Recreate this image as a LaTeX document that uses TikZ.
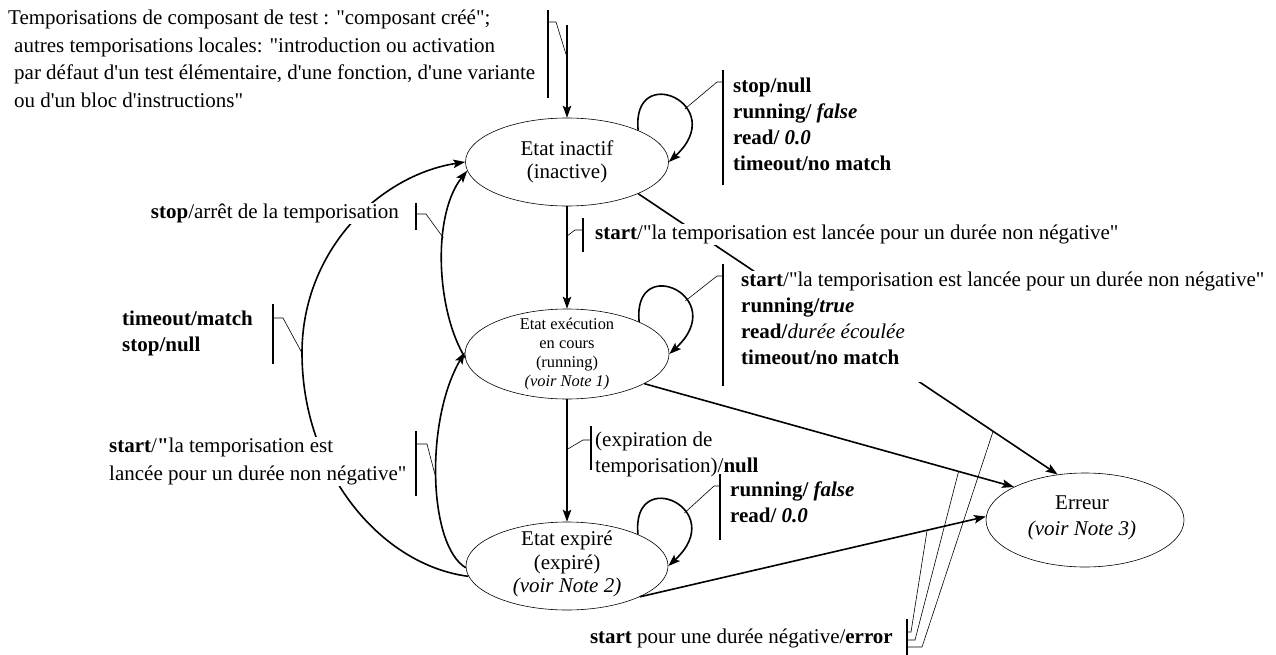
\documentclass[tikz,border=0pt]{standalone}
\usepackage{fontspec}
\setmainfont{Liberation Serif}[Ligatures=TeXOff]
\usetikzlibrary{arrows.meta,shapes.geometric}

\begin{document}
\begin{tikzpicture}[x=1pt,y=-1pt,
  state/.style={draw, ellipse, line width=0.6pt, inner sep=0pt},
  stxt/.style={font=\fontsize{21}{23.5}\selectfont, align=center, inner sep=0pt},
  conn/.style={line width=1.6pt, -{Stealth[length=12pt,width=8.5pt,inset=2.5pt]}},
  tag/.style={font=\fontsize{21}{26}\selectfont, align=left, inner sep=1pt, fill=white},
  bar/.style={line width=1.1pt},
  lead/.style={line width=0.6pt},
]
\useasboundingbox (0,0) rectangle (1276,655);

% states
\node[state, minimum width=203pt, minimum height=88pt] (inactif) at (567,162) {};
\node[stxt] (tinactif) at (inactif.center) {Etat inactif\\(inactive)};
\node[state, minimum width=204pt, minimum height=90pt] (running) at (567,354) {};
\node[stxt, font=\fontsize{16.4}{18.7}\selectfont] (trunning) at (running.center)
  {Etat exécution\\en cours\\(running)\\\textit{(voir Note 1)}};
\node[state, minimum width=202pt, minimum height=88pt] (expired) at (567,566) {};
\node[stxt] (texpired) at ([yshift=2pt]expired.center) {Etat expiré\\(expiré)\\\textit{(voir Note 2)}};
\node[state, minimum width=198pt, minimum height=94pt] (err) at (1085,520) {};
\node[stxt, font=\fontsize{21}{26}\selectfont] (terr) at ([xshift=-3pt,yshift=2pt]err.center) {Erreur\\\textit{(voir Note 3)}};

% initial transition
\coordinate (init) at (567,25);
\draw[conn] (init) -- (inactif.north) coordinate[pos=0.35] (qa);

% main vertical transitions
\draw[conn] (inactif.south) -- (running.north) coordinate[pos=0.29] (qb);
\draw[conn] (running.south) -- (expired.north) coordinate[pos=0.41] (qc);

% self loops
\draw[conn] (inactif.24) .. controls +(-7,-70) and +(62,-57) .. (inactif.0) coordinate[pos=0.63] (qd);
\draw[conn] (running.24) .. controls +(-7,-70) and +(62,-57) .. (running.0) coordinate[pos=0.63] (qk);
\draw[conn] (expired.24) .. controls +(-7,-70) and +(62,-57) .. (expired.0) coordinate[pos=0.63] (ql);

% left-hand transitions
\draw[conn] (running.182) .. controls (436,310) and (432,215) .. (inactif.185) coordinate[pos=0.62] (qe);
\draw[conn] (expired.181) .. controls (428,545) and (425,420) .. (running.179) coordinate[pos=0.49] (qf);
\draw[conn] (expired.186) .. controls (380,565) and (302,470) .. (302,353) coordinate (qg)
  .. controls (302,250) and (380,175) .. (inactif.180);

% transitions to the error state
\draw[conn] (inactif.-24) -- (err.121) coordinate[pos=0.846] (qh);
\draw[conn] (running.-21) -- (err.155) coordinate[pos=0.85] (qi);
\draw[conn] (expired.-23) -- (err.178) coordinate[pos=0.83] (qj);

% ---- labels ----
\node[tag, anchor=north west, font=\fontsize{21}{27.5}\selectfont] (lnote) at (7,9)
  {Temporisations de composant de test : "composant créé";\\
   \hspace*{6pt}autres temporisations locales: "introduction ou activation\\
   \hspace*{6pt}par défaut d'un test élémentaire, d'une fonction, d'une variante\\
   \hspace*{6pt}ou d'un bloc d'instructions"};
\coordinate (ba1) at (548,10); \coordinate (ba2) at (548,98); \coordinate (bam) at (548,22);
\draw[bar] (ba1) -- (ba2);
\draw[lead] (bam) -- (556,22) -- (qa);

\node[tag, anchor=north west] (lidle) at (732,77)
  {\textbf{stop/null}\\\textbf{running/ \textit{false}}\\\textbf{read/ \textit{0.0}}\\\textbf{timeout/no match}};
\coordinate (bb1) at (723,70); \coordinate (bb2) at (723,185); \coordinate (bbm) at (723,82);
\draw[bar] (bb1) -- (bb2);
\draw[lead] (qd) -- (717,82) -- (bbm);

\node[tag, anchor=north west] (lstart) at (594,224)
  {\textbf{start}/"la temporisation est lancée pour un durée non négative"};
\coordinate (bc1) at (583,218); \coordinate (bc2) at (583,252); \coordinate (bcm) at (583,230);
\draw[bar] (bc1) -- (bc2);
\draw[lead] (qb) -- (575,230) -- (bcm);

% the white box of this label reaches a little below its last line
\node[tag, anchor=north west] (lrun) at (740,271)
  {\textbf{start}/"la temporisation est lancée pour un durée non négative"\\
   \textbf{running/\textit{true}}\\\textbf{read/}\textit{durée écoulée}\\\textbf{timeout/no match}\rule[-16pt]{0pt}{1pt}};
\coordinate (bd1) at (723,264); \coordinate (bd2) at (723,386); \coordinate (bdm) at (723,276);
\draw[bar] (bd1) -- (bd2);
\draw[lead] (qk) -- (717,276) -- (bdm);

\node[tag, anchor=north west] (lexp) at (594,431)
  {(expiration de\\temporisation)/\textbf{null}};
\coordinate (be1) at (591,426); \coordinate (be2) at (591,470); \coordinate (bem) at (591,440);
\draw[bar] (be1) -- (be2);
\draw[lead] (qc) -- (583,440) -- (bem);

\node[tag, anchor=north west] (lexpl) at (729,481)
  {\textbf{running/ \textit{false}}\\\textbf{read/ \textit{0.0}}};
\coordinate (bf1) at (720,474); \coordinate (bf2) at (720,540); \coordinate (bfm) at (720,486);
\draw[bar] (bf1) -- (bf2);
\draw[lead] (ql) -- (714,486) -- (bfm);

\node[tag, anchor=north east] (lstop) at (400,203)
  {\textbf{stop}/arrêt de la temporisation};
\coordinate (bg1) at (416,203); \coordinate (bg2) at (416,230); \coordinate (bgm) at (416,214);
\draw[bar] (bg1) -- (bg2);
\draw[lead] (bgm) -- (426,214) -- (qe);

\node[tag, anchor=north west] (ltimeout) at (121,310)
  {\textbf{timeout/match}\\\textbf{stop/null}};
\coordinate (bh1) at (273,304); \coordinate (bh2) at (273,364); \coordinate (bhm) at (273,318);
\draw[bar] (bh1) -- (bh2);
\draw[lead] (bhm) -- (283,318) -- (qg);

\node[tag, anchor=north west, font=\fontsize{21}{28}\selectfont] (lrestart) at (108,437)
  {\textbf{start}/\textbf{"}la temporisation est\\lancée pour un durée non négative"};
\coordinate (bi1) at (416,431); \coordinate (bi2) at (416,496); \coordinate (bim) at (416,444);
\draw[bar] (bi1) -- (bi2);
\draw[lead] (bim) -- (427,444) -- (qf);

\node[tag, anchor=north east] (lerr) at (894,628)
  {\textbf{start} pour une durée négative/\textbf{error}};
\coordinate (bj1) at (907,619); \coordinate (bj2) at (907,655);
\coordinate (bj3) at (907,632); \coordinate (bj4) at (907,640); \coordinate (bj5) at (907,647);
\draw[bar] (bj1) -- (bj2);
\draw[lead] (bj3) -- (911,632) -- (qj);
\draw[lead] (bj4) -- (915,640) -- (qi);
\draw[lead] (bj5) -- (922,647) -- (qh);
\end{tikzpicture}
\end{document}
